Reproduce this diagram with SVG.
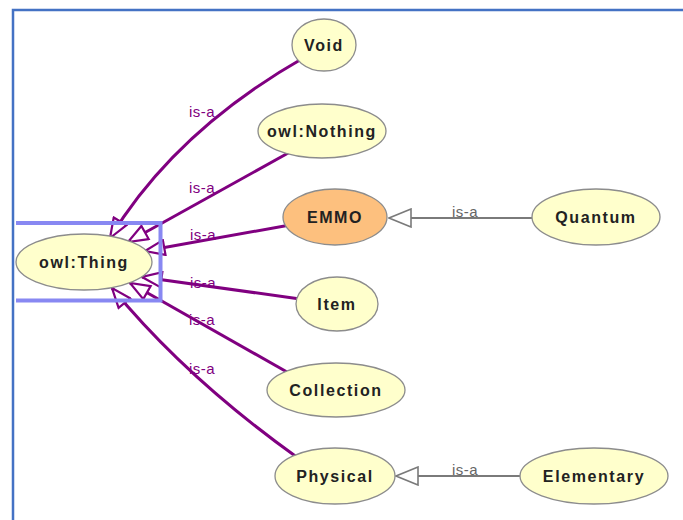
<svg xmlns="http://www.w3.org/2000/svg" width="683" height="520" viewBox="0 0 683 520">
<style>
.node ellipse{fill:#FFFFCC;stroke:#8C8C8C;stroke-width:1.3}
.node.sel ellipse{fill:#FDC07E}
.node text{font-family:"Liberation Sans",Arial,sans-serif;font-size:16px;font-weight:bold;letter-spacing:1.6px;fill:#222;text-anchor:middle}
.isa{fill:none;stroke:#800080;stroke-width:3}
.sub{fill:none;stroke:#7A7A7A;stroke-width:2}
.lbl{font-family:"Liberation Sans",Arial,sans-serif;font-size:15px;fill:#800080;letter-spacing:0.5px}
.glbl{font-family:"Liberation Sans",Arial,sans-serif;font-size:15px;fill:#666666;letter-spacing:0.5px}
</style>
<defs>
<marker id="ap" viewBox="0 0 22 18" refX="21" refY="9" markerWidth="22" markerHeight="18" markerUnits="userSpaceOnUse" orient="auto">
<path d="M1.5,1.5 L21,9 L1.5,16.5 Z" fill="#FFFFFF" stroke="#800080" stroke-width="2.2"/>
</marker>
<marker id="ag" viewBox="0 0 24 20" refX="23" refY="10" markerWidth="24" markerHeight="20" markerUnits="userSpaceOnUse" orient="auto">
<path d="M1,1 L23,10 L1,19 Z" fill="#FFFFFF" stroke="#7A7A7A" stroke-width="1.6"/>
</marker>
</defs>
<rect width="683" height="520" fill="#FFFFFF"/>
<path d="M13,520 L13,10 L683,10" fill="none" stroke="#4472C4" stroke-width="2.5"/>
<g id="connectors">
<path class="isa" d="M305,57 Q175,131 110,238" marker-end="url(#ap)"/>
<path class="isa" d="M290,152 L128,242" marker-end="url(#ap)"/>
<path class="isa" d="M290,225 L145,251" marker-end="url(#ap)"/>
<path class="isa" d="M300,299 L142,277" marker-end="url(#ap)"/>
<path class="isa" d="M287,372 L130,283" marker-end="url(#ap)"/>
<path class="isa" d="M298,458 Q186,378 112,288" marker-end="url(#ap)"/>
<path class="sub" d="M532,218 L389,218" marker-end="url(#ag)"/>
<path class="sub" d="M521,476 L396,476" marker-end="url(#ag)"/>
<text class="lbl" x="189" y="117">is-a</text>
<text class="lbl" x="189" y="193">is-a</text>
<text class="lbl" x="190" y="240">is-a</text>
<text class="lbl" x="190" y="288">is-a</text>
<text class="lbl" x="189" y="325">is-a</text>
<text class="lbl" x="189" y="374">is-a</text>
<text class="glbl" x="452" y="217">is-a</text>
<text class="glbl" x="452" y="475">is-a</text>
</g>
<g id="node-thing" class="node"><ellipse cx="84" cy="262" rx="68" ry="28"/><text x="84" y="268">owl:Thing</text></g>
<g id="node-void" class="node"><ellipse cx="324" cy="45" rx="32" ry="26"/><text x="324" y="51">Void</text></g>
<g id="node-nothing" class="node"><ellipse cx="322" cy="131" rx="64" ry="27"/><text x="322" y="137">owl:Nothing</text></g>
<g id="node-emmo" class="node sel"><ellipse cx="335" cy="217" rx="52" ry="28"/><text x="335" y="223">EMMO</text></g>
<g id="node-quantum" class="node"><ellipse cx="596" cy="217" rx="64" ry="28"/><text x="596" y="223">Quantum</text></g>
<g id="node-item" class="node"><ellipse cx="337" cy="304" rx="41" ry="27"/><text x="337" y="310">Item</text></g>
<g id="node-collection" class="node"><ellipse cx="336" cy="390" rx="69" ry="27"/><text x="336" y="396">Collection</text></g>
<g id="node-physical" class="node"><ellipse cx="335" cy="476" rx="60" ry="28"/><text x="335" y="482">Physical</text></g>
<g id="node-elementary" class="node"><ellipse cx="594" cy="476" rx="74" ry="28"/><text x="594" y="482">Elementary</text></g>
<path d="M16,223 L160.5,223 L160.5,300.5 L16,300.5" fill="none" stroke="#8888F2" stroke-width="4"/>
</svg>
